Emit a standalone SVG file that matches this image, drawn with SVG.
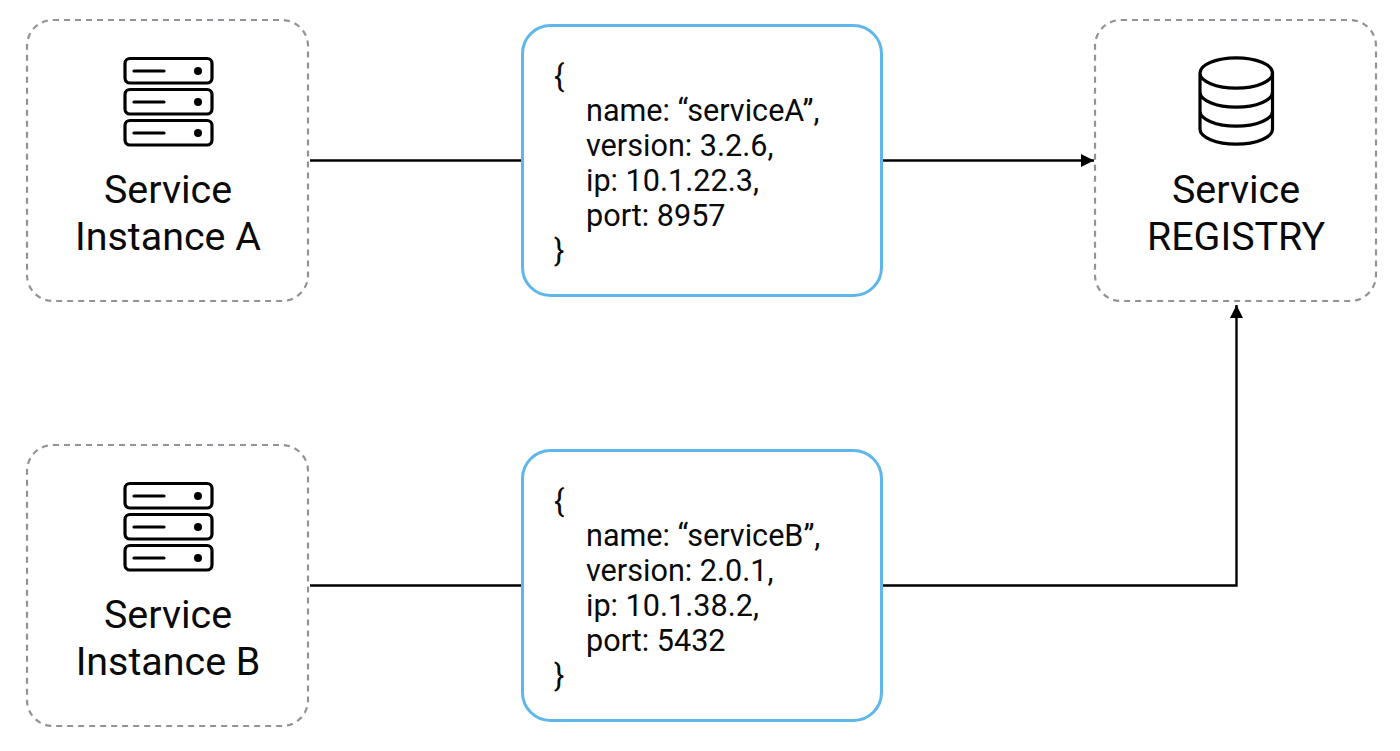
<svg xmlns="http://www.w3.org/2000/svg" width="1400" height="751" viewBox="0 0 1400 751">
<defs>
<marker id="arrow" markerUnits="userSpaceOnUse" markerWidth="13" markerHeight="14" refX="13" refY="7" orient="auto"><path d="M0 0.5L13 7L0 13.5Z" fill="#000"/></marker>
<g id="server">
<rect x="0" y="0" width="87" height="24.5" rx="5" class="icon"/>
<rect x="0" y="31" width="87" height="24.5" rx="5" class="icon"/>
<rect x="0" y="62" width="87" height="24.5" rx="5" class="icon"/>
<path d="M9 12.5H39M9 43.5H39M9 74.5H39" class="icon"/>
<circle cx="73" cy="12.5" r="4" fill="#000"/><circle cx="73" cy="43.5" r="4" fill="#000"/><circle cx="73" cy="74.5" r="4" fill="#000"/>
</g>
</defs>
<style>
text{font-family:Roboto,"Liberation Sans",sans-serif;fill:#0a0a0a}
.title{font-size:39.4px;text-anchor:middle}
.code{font-size:30.6px}
.box{fill:#fff;stroke:#909498;stroke-width:2.2;stroke-dasharray:6 5}
.msg{fill:#fff;stroke:#5fb6ea;stroke-width:3}
.icon{fill:none;stroke:#000;stroke-width:3.2;stroke-linecap:round}
.conn{fill:none;stroke:#000;stroke-width:2.4}
</style>
<rect width="1400" height="751" fill="#fff"/>
<g id="connectors">
<path class="conn" d="M310 160.5H522"/>
<path class="conn" d="M883 160.5H1094" marker-end="url(#arrow)"/>
<path class="conn" d="M310 585.5H522"/>
<path class="conn" d="M883 585.5H1236.5V305" marker-end="url(#arrow)"/>
</g>
<g id="instance-a">
<rect class="box" x="27" y="20" width="281" height="281" rx="26"/>
<use href="#server" x="125" y="58.500"/>
<text class="title" x="168" y="203">Service</text>
<text class="title" x="168" y="250">Instance A</text>
</g>
<g id="instance-b">
<rect class="box" x="27" y="445" width="281" height="281" rx="26"/>
<use href="#server" x="125" y="483.500"/>
<text class="title" x="168" y="628">Service</text>
<text class="title" x="168" y="675">Instance B</text>
</g>
<g id="payload-a">
<rect class="msg" x="522.500" y="25.500" width="359" height="270" rx="28"/>
<text class="code" x="554" y="87">{</text>
<text class="code" x="586" y="121">name: “serviceA”,</text>
<text class="code" x="586" y="155.500">version: 3.2.6,</text>
<text class="code" x="586" y="190.500">ip: 10.1.22.3,</text>
<text class="code" x="586" y="225.500">port: 8957</text>
<text class="code" x="554" y="261">}</text>
</g>
<g id="payload-b">
<rect class="msg" x="522.500" y="450.500" width="359" height="270" rx="28"/>
<text class="code" x="554" y="512">{</text>
<text class="code" x="586" y="546">name: “serviceB”,</text>
<text class="code" x="586" y="580.500">version: 2.0.1,</text>
<text class="code" x="586" y="615.500">ip: 10.1.38.2,</text>
<text class="code" x="586" y="650.500">port: 5432</text>
<text class="code" x="554" y="686">}</text>
</g>
<g id="registry">
<rect class="box" x="1095" y="20" width="281" height="281" rx="26"/>
<path class="icon" stroke-width="3.6" d="M1200 73A36 15 0 0 1 1272.500 73V129A36 15 0 0 1 1200 129ZM1200 73A36 15 0 0 0 1272.500 73M1200 92A36 15 0 0 0 1272.500 92M1200 111A36 15 0 0 0 1272.500 111"/>
<text class="title" x="1236" y="203">Service</text>
<text class="title" x="1236" y="250">REGISTRY</text>
</g>
</svg>
